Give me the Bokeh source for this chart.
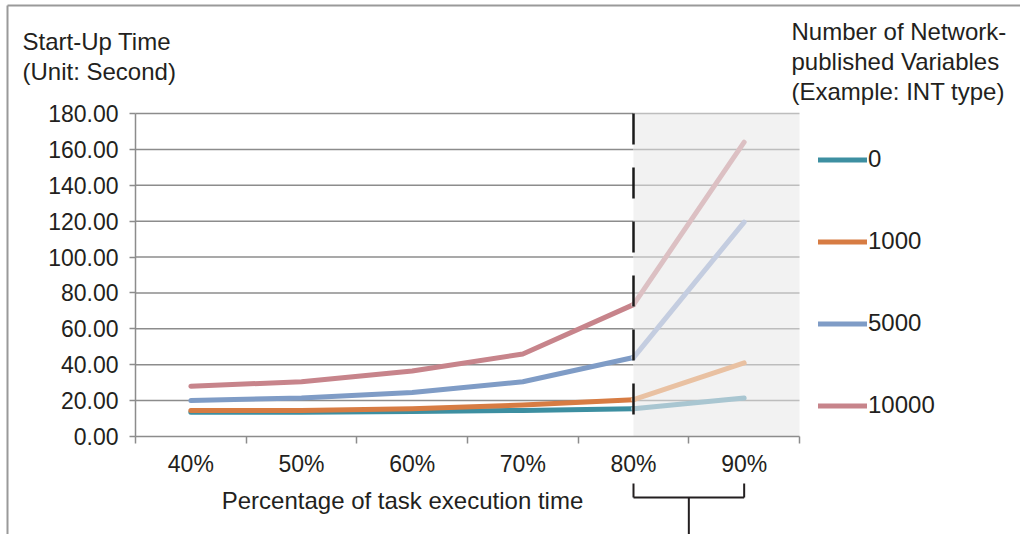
from bokeh.plotting import figure
from bokeh.models import (Range1d, FixedTicker, NumeralTickFormatter, BoxAnnotation,
                          Label, Legend, LegendItem)
from bokeh.embed import file_html
from bokeh.resources import INLINE

# ---- data ----
categories = ["40%", "50%", "60%", "70%", "80%", "90%"]
series_names = ["0", "1000", "5000", "10000"]
vals_0 = [13.5, 13.5, 14.0, 14.5, 15.5, 21.5]
vals_1000 = [14.5, 14.5, 15.5, 17.5, 20.5, 41.0]
vals_5000 = [20.0, 21.5, 24.5, 30.5, 44.0, 119.5]
vals_10000 = [28.0, 30.5, 36.5, 46.0, 73.5, 164.0]
y_ticks = [0, 20, 40, 60, 80, 100, 120, 140, 160, 180]
split_category = "80%"

# ---- style / layout ----
colors = ["#3d8fa1", "#d77c43", "#7f9cc6", "#c7848b"]
faded = ["#a9c6d1", "#e9c1a2", "#c4cde0", "#dcc0c3"]
TXT = "#231f20"
GRID = "#8c8c8c"
GRID_LIGHT = "#bdbdbd"
FONT = "Liberation Sans"
FS = "23px"
FS_T = "24px"

W, H = 1020, 534
FX0, FX1 = 135, 799      # pixel columns of the plot area
FY0, FY1 = 436, 113      # pixel rows of y=0 and y=max
YMAX = y_ticks[-1]
n = len(categories)
kx = (FX1 - FX0) / n
ky = (FY0 - FY1) / YMAX

def px2x(px):
    return (px - FX0) / kx

def py2y(py):
    return (FY0 - py) / ky

xs = [i + 0.5 for i in range(n)]
isplit = categories.index(split_category)
xsplit = xs[isplit]

p = figure(width=W, height=H, min_border=0,
           x_range=Range1d(px2x(0), px2x(W)), y_range=Range1d(py2y(H), py2y(0)),
           output_backend="svg", toolbar_location=None)
p.outline_line_color = None
p.background_fill_color = "white"
p.border_fill_color = "white"
p.grid.visible = False

# page frame lines (top and left)
p.segment(x0=[px2x(7), px2x(7)], y0=[py2y(5), py2y(5)], x1=[px2x(W), px2x(7)], y1=[py2y(5), py2y(H)],
          line_color="#9a9a9a", line_width=2)

# shaded region
p.add_layout(BoxAnnotation(left=xsplit, right=n, bottom=0, top=YMAX,
                           fill_color="#f2f2f2", fill_alpha=1, line_alpha=0, level="underlay"))

# horizontal grid lines
gt = y_ticks[1:]
p.segment(x0=[0] * len(gt), y0=gt, x1=[xsplit] * len(gt), y1=gt, line_color=GRID, line_width=1.5)
p.segment(x0=[xsplit] * len(gt), y0=gt, x1=[n] * len(gt), y1=gt, line_color=GRID_LIGHT, line_width=1.5)

# y axis
ya = p.yaxis[0]
ya.fixed_location = 0
ya.bounds = (0, YMAX)
ya.ticker = FixedTicker(ticks=y_ticks)
ya.formatter = NumeralTickFormatter(format="0.00")
ya.axis_line_color = GRID
ya.axis_line_width = 1.5
ya.major_tick_line_color = GRID
ya.major_tick_line_width = 1.5
ya.major_tick_out = 6
ya.major_tick_in = 0
ya.minor_tick_line_color = None
ya.major_label_standoff = 11
ya.major_label_text_font = FONT
ya.major_label_text_font_size = FS
ya.major_label_text_color = TXT

# x axis
xa = p.xaxis[0]
xa.fixed_location = 0
xa.bounds = (0, n)
xa.ticker = FixedTicker(ticks=xs, minor_ticks=list(range(n + 1)))
xa.major_label_overrides = {x: c for x, c in zip(xs, categories)}
xa.axis_line_color = GRID
xa.axis_line_width = 1.5
xa.major_tick_line_color = None
xa.major_tick_out = 0
xa.major_tick_in = 0
xa.minor_tick_line_color = GRID
xa.minor_tick_line_width = 1.5
xa.minor_tick_out = 7
xa.minor_tick_in = 0
xa.major_label_standoff = 7
xa.major_label_text_font = FONT
xa.major_label_text_font_size = FS
xa.major_label_text_color = TXT

# lines
all_vals = [vals_0, vals_1000, vals_5000, vals_10000]
renderers = []
for vals, c in zip(all_vals, colors):
    r = p.line(xs[:isplit + 1], vals[:isplit + 1], line_color=c, line_width=5,
               line_cap="round", line_join="round")
    renderers.append(r)
for vals, c in zip(all_vals, faded):
    p.line(xs[isplit:], vals[isplit:], line_color=c, line_width=5,
           line_cap="round", line_join="round")

# dashed divider at the split category
p.segment(x0=[xsplit], y0=[YMAX], x1=[xsplit], y1=[0], line_color="#1a1a1a",
          line_width=2.5, line_dash="31 23")

# legend
legend = Legend(items=[LegendItem(label=s, renderers=[r]) for s, r in zip(series_names, renderers)],
                location=(818, H - 419))
legend.glyph_width = 49
legend.glyph_height = 27
legend.label_height = 27
legend.spacing = 54
legend.padding = 0
legend.margin = 0
legend.label_standoff = 1
legend.border_line_color = None
legend.background_fill_alpha = 0
legend.label_text_font = FONT
legend.label_text_font_size = FS_T
legend.label_text_color = TXT
p.add_layout(legend)

# texts
def lab(px, py, t, align="left"):
    p.add_layout(Label(x=px2x(px), y=py2y(py), text=t, text_font=FONT, text_font_size=FS_T,
                       text_color=TXT, text_baseline="middle", text_align=align))

lab(22, 41, "Start-Up Time")
lab(22, 71, "(Unit: Second)")
lab(791, 31, "Number of Network-")
lab(791, 61, "published Variables")
lab(791, 91, "(Example: INT type)")
lab(402, 500, "Percentage of task execution time", align="center")

# bracket below the shaded categories
bx0, bx1 = xsplit, xs[-1]
bmid = (bx0 + bx1) / 2
yt, yb, ybot = py2y(483), py2y(497), py2y(H + 10)
p.segment(x0=[bx0, bx0, bx1, bmid], y0=[yt, yb, yt, yb],
          x1=[bx0, bx1, bx1, bmid], y1=[yb, yb, yb, ybot],
          line_color=TXT, line_width=2)

open("out.html", "w").write(file_html(p, INLINE))
